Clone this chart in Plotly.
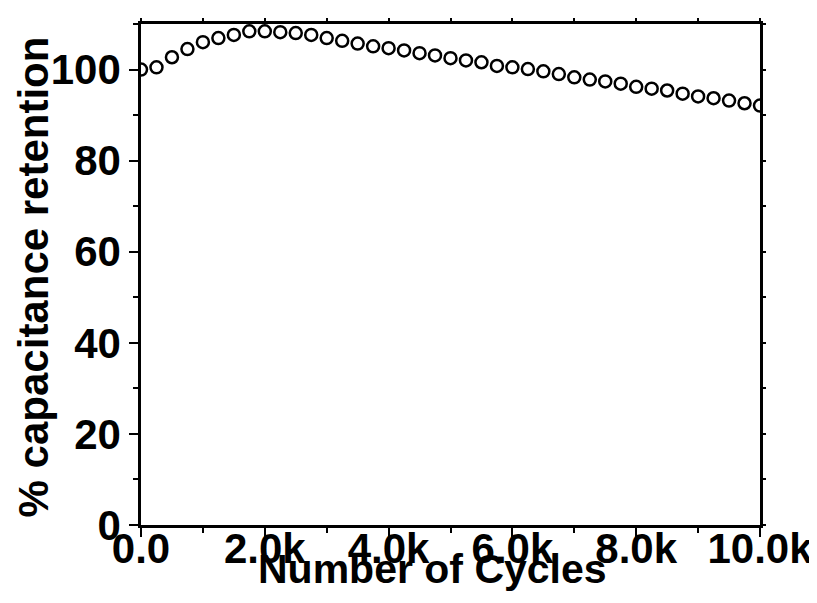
import plotly.graph_objects as go

cycles = [i * 250 for i in range(41)]
retention = [100.0, 100.5, 102.7, 104.5, 106.0, 106.9, 107.6, 108.4, 108.4, 108.2,
             108.0, 107.6, 106.9, 106.3, 105.7, 105.1, 104.7, 104.2, 103.6, 103.1,
             102.5, 102.0, 101.6, 100.8, 100.5, 100.1, 99.6, 99.0, 98.3, 97.8,
             97.4, 96.9, 96.2, 95.8, 95.4, 94.7, 94.1, 93.7, 93.2, 92.6, 92.1]

x_tickvals = [0, 2000, 4000, 6000, 8000, 10000]
x_ticktext = ["0.0", "2.0k", "4.0k", "6.0k", "8.0k", "10.0k"]
y_tickvals = [0, 20, 40, 60, 80, 100]
y_ticktext = ["0", "20", "40", "60", "80", "100"]

x_title = "Number of Cycles"
y_title = "% capacitance retention"

FONT = "Liberation Sans, Arial, sans-serif"

fig = go.Figure()
fig.add_trace(go.Scatter(
    x=cycles, y=retention, mode="markers",
    marker=dict(symbol="circle-open", size=12, color="black", line=dict(width=2.5, color="black")),
    cliponaxis=True, showlegend=False,
))
# empty trace for mirrored axes
fig.add_trace(go.Scatter(x=[], y=[], xaxis="x2", yaxis="y2", showlegend=False))

axis_common = dict(showgrid=False, zeroline=False, showline=True, linecolor="black",
                   linewidth=2.5, ticks="outside", tickwidth=2, ticklen=9, tickcolor="black",
                   tickfont=dict(family=FONT, size=42, color="black", weight="bold"))

fig.update_layout(
    width=817, height=603,
    margin=dict(l=133, r=57, t=16, b=86),
    paper_bgcolor="white", plot_bgcolor="white",
    xaxis=dict(range=[0, 10000], tickmode="array", tickvals=x_tickvals, ticktext=x_ticktext,
               ticklabelstandoff=-24,
               minor=dict(dtick=1000, ticks="outside", ticklen=5, tickwidth=2, tickcolor="black"),
               **axis_common),
    yaxis=dict(range=[0, 110], tickmode="array", tickvals=y_tickvals, ticktext=y_ticktext,
               minor=dict(dtick=10, tick0=0, ticks="outside", ticklen=5, tickwidth=2, tickcolor="black"),
               **axis_common),
    xaxis2=dict(range=[0, 10000], overlaying="x", side="top", anchor="y2", showgrid=False,
                zeroline=False, showline=True, linecolor="black", linewidth=2.5,
                showticklabels=False, ticks="outside", ticklen=3, tickwidth=2, tickcolor="black",
                tickmode="array", tickvals=x_tickvals,
                minor=dict(dtick=1000, ticks="outside", ticklen=3, tickwidth=2, tickcolor="black")),
    yaxis2=dict(range=[0, 110], overlaying="y", side="right", anchor="x2", showgrid=False,
                zeroline=False, showline=True, linecolor="black", linewidth=2.5,
                showticklabels=False, ticks="outside", ticklen=3, tickwidth=2, tickcolor="black",
                tickmode="array", tickvals=y_tickvals,
                minor=dict(dtick=10, tick0=0, ticks="outside", ticklen=3, tickwidth=2, tickcolor="black")),
    annotations=[
        dict(text=x_title, xref="paper", yref="paper", x=(428 - 133) / 627, y=-(561 - 517) / 501,
             xanchor="center", yanchor="middle", showarrow=False,
             font=dict(family=FONT, size=41, color="black", weight="bold")),
        dict(text=y_title, xref="paper", yref="paper", x=-(133 - 24) / 627, y=(517 - 269) / 501,
             xanchor="center", yanchor="middle", showarrow=False, textangle=-90,
             font=dict(family=FONT, size=42, color="black", weight="bold")),
    ],
)

fig.write_html("out.html")
